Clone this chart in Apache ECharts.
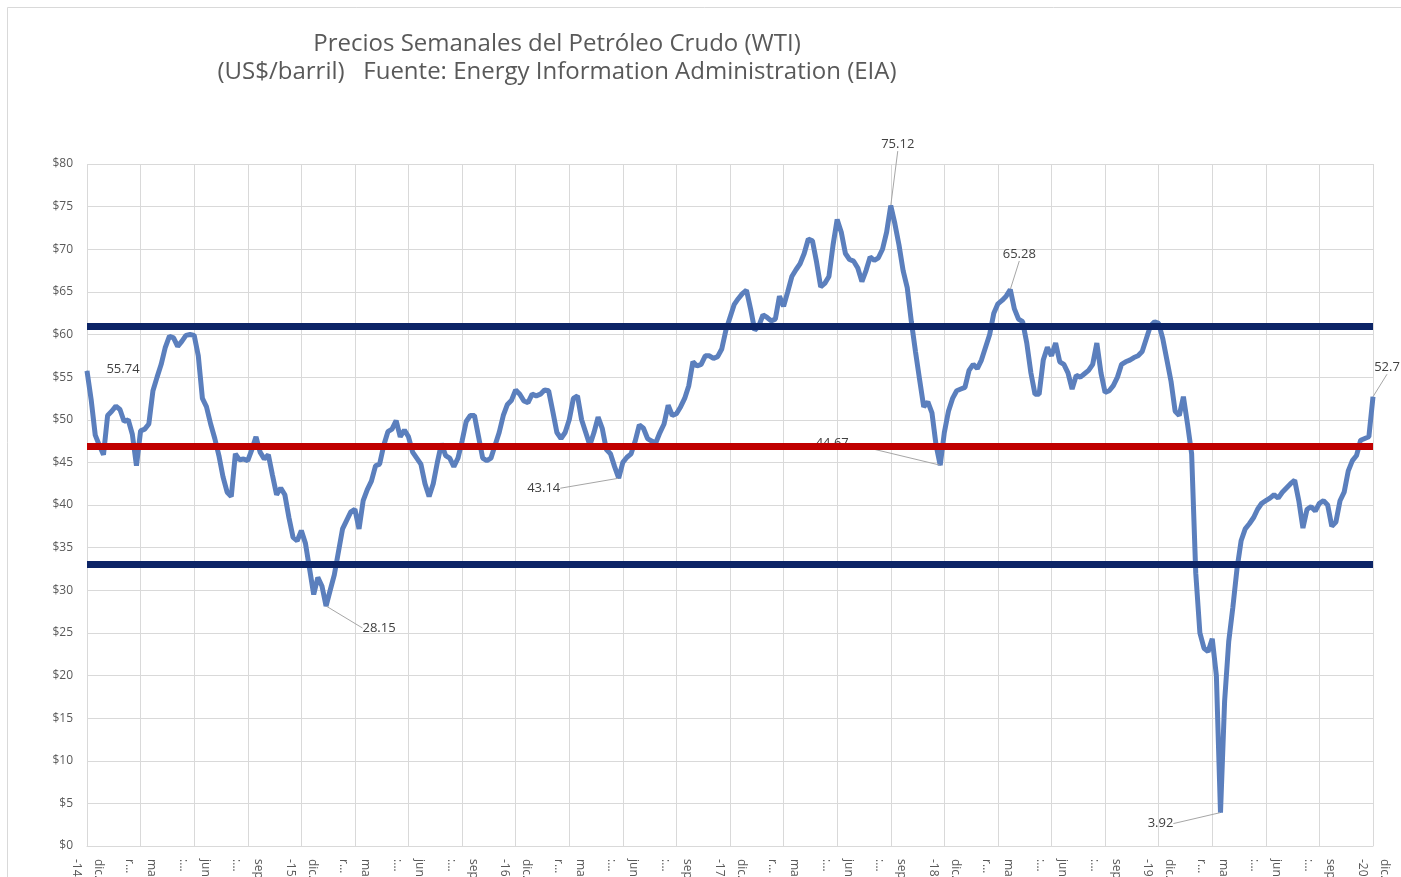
<!DOCTYPE html>
<html>
<head>
<meta charset="utf-8">
<script src="https://cdn.jsdelivr.net/npm/echarts@6/dist/echarts.min.js"></script>
<style>
  html, body { margin: 0; padding: 0; background: #fff; }
  #chart { width: 1401px; height: 877px; }
</style>
</head>
<body>
<div id="chart"></div>
<script>
// precios semanales WTI (US$/barril), una fila por trimestre (13 semanas)
const prices = [
  55.74, 52.4, 48.2, 47.0, 45.9, 50.5, 51.0, 51.6, 51.2, 49.8, 50.0, 48.3, 44.6,
  48.7, 48.9, 49.5, 53.4, 55.0, 56.5, 58.5, 59.8, 59.6, 58.6, 59.2, 59.9, 60.0,
  59.9, 57.5, 52.5, 51.5, 49.5, 47.8, 45.8, 43.3, 41.5, 41.0, 46.0, 45.3, 45.4,
  45.2, 46.5, 48.0, 46.2, 45.4, 45.9, 43.5, 41.2, 42.0, 41.2, 38.5, 36.2, 35.8,
  37.0, 35.5, 32.5, 29.5, 31.5, 30.5, 28.15, 30.0, 31.8, 34.5, 37.2, 38.2, 39.2,
  39.5, 37.2, 40.5, 41.8, 42.8, 44.6, 44.8, 47.0, 48.6, 48.9, 49.9, 48.0, 48.8,
  48.0, 46.2, 45.5, 44.8, 42.5, 41.0, 42.5, 45.0, 47.2, 45.8, 45.5, 44.5, 45.5,
  47.5, 49.8, 50.5, 50.5, 48.0, 45.5, 45.2, 45.5, 47.0, 48.5, 50.5, 51.8, 52.3,
  53.5, 53.0, 52.2, 52.0, 53.0, 52.8, 53.0, 53.5, 53.4, 51.0, 48.5, 47.8, 48.5,
  50.0, 52.5, 52.8, 50.0, 48.5, 47.0, 48.5, 50.3, 49.0, 46.5, 46.0, 44.5, 43.14,
  45.0, 45.6, 46.0, 47.5, 49.4, 49.0, 47.8, 47.5, 47.3, 48.5, 49.5, 51.7, 50.5,
  50.7, 51.5, 52.5, 54.0, 56.8, 56.3, 56.5, 57.5, 57.5, 57.2, 57.4, 58.3, 60.5,
  62.0, 63.5, 64.2, 64.8, 65.2, 63.0, 60.5, 61.0, 62.3, 62.0, 61.6, 61.8, 64.5,
  63.3, 65.0, 66.8, 67.6, 68.3, 69.5, 71.2, 71.0, 68.5, 65.6, 66.0, 66.8, 70.5,
  73.5, 72.0, 69.5, 68.8, 68.6, 67.8, 66.2, 67.5, 69.1, 68.7, 69.0, 70.0, 72.0,
  75.12, 73.0, 70.5, 67.5, 65.5, 61.5, 58.0, 54.7, 51.5, 52.1, 50.8, 47.0, 44.67,
  48.5, 51.0, 52.5, 53.4, 53.6, 53.8, 55.8, 56.5, 56.0, 57.0, 58.5, 60.0, 62.5,
  63.6, 64.0, 64.5, 65.28, 63.0, 61.8, 61.5, 59.0, 55.5, 53.0, 53.0, 57.0, 58.5,
  57.5, 59.0, 56.8, 56.5, 55.5, 53.6, 55.2, 55.0, 55.4, 55.8, 56.5, 59.0, 55.5,
  53.2, 53.4, 54.0, 55.0, 56.5, 56.8, 57.0, 57.3, 57.5, 58.0, 59.5, 61.0, 61.5,
  61.3, 59.5, 57.0, 54.5, 51.0, 50.5, 52.7, 49.5, 46.0, 32.0, 25.0, 23.2, 22.8,
  24.3, 20.0, 3.92, 17.0, 24.0, 28.0, 32.5, 35.8, 37.2, 37.8, 38.5, 39.5, 40.2,
  40.5, 40.8, 41.2, 40.8, 41.5, 42.0, 42.5, 42.9, 40.5, 37.3, 39.5, 39.8, 39.3,
  40.2, 40.5, 40.0, 37.5, 38.0, 40.5, 41.5, 44.0, 45.2, 45.8, 47.6, 47.8, 48.0,
  52.7
]

// etiquetas del eje (una por trimestre, tal como se ven recortadas)
const tickLabels = [
  'dic.\n-14', 'ma\nr…', 'jun\n:…', 'sep\n:…',
  'dic.\n-15', 'ma\nr…', 'jun\n:…', 'sep\n:…',
  'dic.\n-16', 'ma\nr…', 'jun\n:…', 'sep\n:…',
  'dic.\n-17', 'ma\nr…', 'jun\n:…', 'sep\n:…',
  'dic.\n-18', 'ma\nr…', 'jun\n:…', 'sep\n:…',
  'dic.\n-19', 'ma\nr…', 'jun\n:…', 'sep\n:…',
  'dic.\n-20'
]
const weeksPerTick = 13

// semanas con etiqueta de dato
const labeledWeeks = [0, 58, 129, 195, 207, 224, 275, 312]
// niveles de referencia: techo, media, piso
const refLevels = [61.0, 46.9, 33.0]

// categorías: semanas desde el 26-dic-2014
const weeks = prices.map((_, i) => {
  const d = new Date(Date.UTC(2014, 11, 26 + i * 7))
  return d.toISOString().slice(0, 10)
})

// posición de cada etiqueta respecto al punto (px)
const labelShift = {
  0: [36, -2], 58: [53, 22], 129: [-75, 10], 195: [7, -61],
  207: [-108, -22], 224: [9, -35], 275: [-60, 11], 312: [14, -29]
}

const chart = echarts.init(document.getElementById('chart'))

const seriesData = prices.map((v, i) => {
  if (labeledWeeks.indexOf(i) < 0) return v
  return {
    value: v,
    symbol: 'circle',
    symbolSize: 1,
    label: { show: true },
    labelLine: { show: i !== 0 }
  }
})

const option = {
  animation: false,
  backgroundColor: '#fff',
  textStyle: { fontFamily: 'Open Sans, sans-serif' },
  graphic: [{
    type: 'rect',
    shape: { x: 7.5, y: 7.5, width: 1420, height: 900 },
    style: { fill: 'none', stroke: '#d9d9d9', lineWidth: 1 },
    silent: true
  }],
  title: {
    text: 'Precios Semanales del Petróleo Crudo (WTI)\n(US$/barril)   Fuente: Energy Information Administration (EIA)',
    left: 552,
    top: 25,
    textAlign: 'center',
    textStyle: {
      fontFamily: 'Open Sans, sans-serif',
      fontSize: 24,
      fontWeight: 'normal',
      color: '#595959',
      lineHeight: 28
    }
  },
  grid: { left: 87, right: 28, top: 164, bottom: 31, outerBoundsMode: 'none' },
  xAxis: {
    type: 'category',
    data: weeks,
    boundaryGap: false,
    axisLine: { lineStyle: { color: '#d9d9d9' } },
    axisTick: { show: false },
    axisLabel: {
      interval: (i) => i % weeksPerTick === 0,
      rotate: -90,
      margin: 13,
      fontSize: 12,
      lineHeight: 22,
      color: '#595959',
      formatter: (val, i) => tickLabels[Math.round(i / weeksPerTick)] || ''
    },
    splitLine: {
      show: true,
      interval: (i) => i % weeksPerTick === 0,
      lineStyle: { color: '#d9d9d9' }
    }
  },
  yAxis: {
    type: 'value',
    min: 0,
    max: 80,
    interval: 5,
    axisLine: { show: false },
    axisTick: { show: false },
    axisLabel: {
      formatter: (v) => '$' + v,
      fontSize: 12,
      color: '#595959',
      margin: 14
    },
    splitLine: { lineStyle: { color: '#d9d9d9' } }
  },
  series: [
    {
      name: 'WTI',
      type: 'line',
      data: seriesData,
      z: 2,
      symbol: 'none',
      showSymbol: true,
      showAllSymbol: true,
      lineStyle: { color: '#5b7fbd', width: 5 },
      itemStyle: { color: '#5b7fbd' },
      label: {
        show: false,
        fontSize: 13,
        color: '#404040',
        formatter: (p) => String(p.value)
      },
      labelLine: {
        show: true,
        lineStyle: { color: '#a6a6a6', width: 1 }
      },
      labelLayout: (p) => {
        const s = labelShift[p.dataIndex]
        if (!s) return {}
        const cx = p.rect.x + p.rect.width / 2
        const cy = p.rect.y + p.rect.height / 2
        return { x: cx + s[0], y: cy + s[1], align: 'center', verticalAlign: 'middle' }
      }
    },
    {
      // líneas de referencia dibujadas por encima de la serie
      name: 'ref',
      type: 'line',
      data: [],
      z: 5,
      silent: true,
      markLine: {
        silent: true,
        symbol: 'none',
        label: { show: false },
        data: refLevels.map((lv, k) => ({
          yAxis: lv,
          lineStyle: {
            color: k === 1 ? '#c00000' : '#0c2466',
            width: 7,
            type: 'solid'
          }
        }))
      }
    }
  ]
}

chart.setOption(option)
</script>
</body>
</html>
